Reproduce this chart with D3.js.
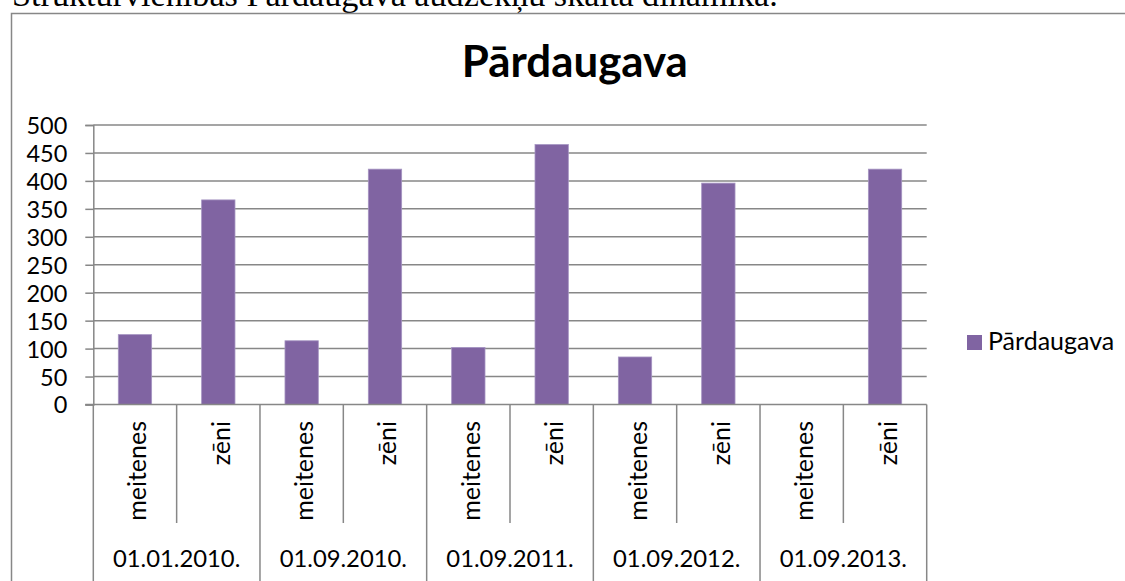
<!DOCTYPE html>
<html>
<head>
<meta charset="utf-8">
<script src="https://cdn.jsdelivr.net/npm/d3@7"></script>
<style>
  html, body { margin: 0; padding: 0; background: #fff; overflow: hidden; }
  svg { display: block; }
</style>
</head>
<body>
<div id="chart"></div>
<script>
// data
var dates = ["01.01.2010.", "01.09.2010.", "01.09.2011.", "01.09.2012.", "01.09.2013."];
var genders = ["meitenes", "zēni"];
var meitenes = [125, 114, 102, 85, null];
var zeni = [366, 421, 465, 396, 421];
var yTicks = [0, 50, 100, 150, 200, 250, 300, 350, 400, 450, 500];
var seriesName = "Pārdaugava";
var heading = "Struktūrvienības Pārdaugava audzēkņu skaita dinamika.";

var W = 1125, H = 581;
var font = "Lato, 'Open Sans', sans-serif";
var grey = "#878787";
var purple = "#8064A2";

// flatten into one row per bar
var rows = [];
dates.forEach(function(d, i) {
  rows.push({date: d, g: genders[0], v: meitenes[i], key: i * 2});
  rows.push({date: d, g: genders[1], v: zeni[i], key: i * 2 + 1});
});

var svg = d3.select("#chart").append("svg")
  .attr("width", W).attr("height", H);

// fit a text element to a target width
function fit(sel, target) {
  var w = sel.node().getComputedTextLength();
  var fs = parseFloat(sel.attr("font-size"));
  sel.attr("font-size", fs * target / w);
}

// heading of the document above the chart (cut by the top edge, as in the source)
var head = svg.append("text")
  .attr("x", 12).attr("y", 6)
  .attr("font-family", "'Liberation Serif', 'Times New Roman', serif")
  .attr("font-size", 26)
  .attr("fill", "#000")
  .text(heading);
fit(head, 766);

// chart frame (runs past right and bottom edges)
svg.append("rect")
  .attr("x", 11.5).attr("y", 13.5)
  .attr("width", W + 20).attr("height", H + 20)
  .attr("fill", "#fff")
  .attr("stroke", grey).attr("stroke-width", 1.5);

var x0 = 93.3, x1 = 926.7;
var y = d3.scaleLinear().domain([0, 500]).range([404.5, 125]);
var x = d3.scaleBand()
  .domain(rows.map(function(d) { return d.key; }))
  .range([x0, x1])
  .paddingInner(0.6).paddingOuter(0.3);
var step = x.step();

// title
var title = svg.append("text")
  .attr("x", (461.7 + 688) / 2).attr("y", 77)
  .attr("text-anchor", "middle")
  .attr("font-family", font).attr("font-weight", "bold")
  .attr("font-size", 38)
  .attr("fill", "#000")
  .text(seriesName);
fit(title, 226);

// y axis with gridlines
var yAxis = svg.append("g")
  .attr("transform", "translate(" + x0 + ",0)")
  .call(d3.axisLeft(y).tickValues(yTicks).tickSize(8).tickPadding(18));
yAxis.select(".domain").attr("stroke", grey).attr("stroke-width", 1.5);
yAxis.selectAll(".tick line").attr("stroke", grey).attr("stroke-width", 1.5);
yAxis.selectAll(".tick text")
  .attr("font-family", font).attr("font-size", 23.5)
  .attr("fill", "#000").attr("dy", "0.36em");

svg.append("g").selectAll("line")
  .data(yTicks.filter(function(t) { return t > 0; }))
  .enter().append("line")
    .attr("x1", x0).attr("x2", x1)
    .attr("y1", function(d) { return y(d); })
    .attr("y2", function(d) { return y(d); })
    .attr("stroke", grey).attr("stroke-width", 1.5);

// bars
svg.append("g").selectAll("rect")
  .data(rows.filter(function(d) { return d.v != null; }))
  .enter().append("rect")
    .attr("x", function(d) { return x(d.key); })
    .attr("y", function(d) { return y(d.v); })
    .attr("width", x.bandwidth())
    .attr("height", function(d) { return y(0) - y(d.v); })
    .attr("fill", purple)
    .attr("stroke", "#a594c2").attr("stroke-width", 0.8);

// x axis line
svg.append("line")
  .attr("x1", x0 - 8).attr("x2", x1)
  .attr("y1", y(0)).attr("y2", y(0))
  .attr("stroke", grey).attr("stroke-width", 1.5);

// separators: group boundaries run to the bottom, inner ones stop above date row
var seps = d3.range(rows.length + 1);
svg.append("g").selectAll("line")
  .data(seps)
  .enter().append("line")
    .attr("x1", function(i) { return x0 + i * step; })
    .attr("x2", function(i) { return x0 + i * step; })
    .attr("y1", y(0))
    .attr("y2", function(i) { return i % 2 == 0 ? H : 523; })
    .attr("stroke", grey).attr("stroke-width", 1.5);

// rotated gender labels
svg.append("g").selectAll("text")
  .data(rows)
  .enter().append("text")
    .attr("transform", function(d) {
      var cx = x(d.key) + x.bandwidth() / 2 + 11.5;
      return "translate(" + cx + ",421) rotate(-90)";
    })
    .attr("text-anchor", "end")
    .attr("font-family", font).attr("font-size", 25)
    .attr("fill", "#000")
    .text(function(d) { return d.g; });

// date labels
svg.append("g").selectAll("text")
  .data(dates)
  .enter().append("text")
    .attr("x", function(d, i) { return x0 + (i * 2 + 1) * step; })
    .attr("y", 567)
    .attr("text-anchor", "middle")
    .attr("font-family", font).attr("font-size", 23.8)
    .attr("fill", "#000")
    .text(function(d) { return d; });

// legend
var lg = svg.append("g").attr("transform", "translate(967,335)");
lg.append("rect").attr("width", 15).attr("height", 15).attr("fill", purple);
lg.append("text")
  .attr("x", 21).attr("y", 14.5)
  .attr("font-family", font).attr("font-size", 25)
  .attr("fill", "#000")
  .text(seriesName);
</script>
</body>
</html>
